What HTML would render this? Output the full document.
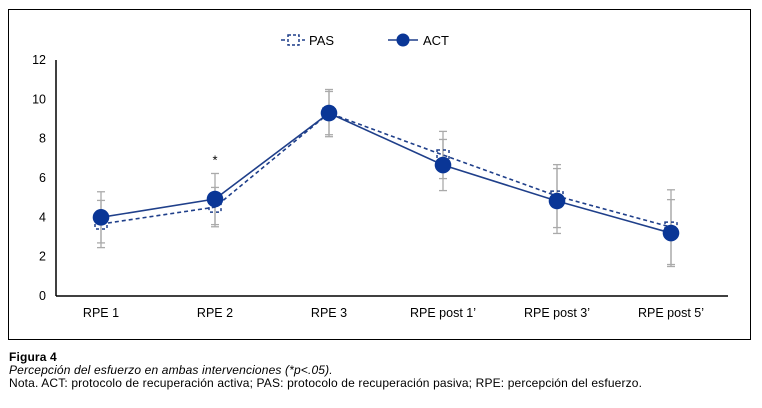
<!DOCTYPE html>
<html><head><meta charset="utf-8"><style>
body{margin:0;background:#fff;width:762px;height:408px;overflow:hidden;font-family:"Liberation Sans",Arial,sans-serif;}
svg{position:absolute;left:0;top:0}
.cap{position:absolute;left:9px;font-size:12px;color:#000;line-height:13px;letter-spacing:0.15px}
</style></head><body>
<svg width="762" height="408" id="chart">
<rect x="8.5" y="9.5" width="742" height="330" fill="none" stroke="#000" stroke-width="1"/>
</svg>
<div class="cap" style="top:351px;font-weight:bold">Figura 4</div>
<div class="cap" style="top:364px;font-style:italic">Percepción del esfuerzo en ambas intervenciones (*p&lt;.05).</div>
<div class="cap" style="top:377px">Nota. ACT: protocolo de recuperación activa; PAS: protocolo de recuperación pasiva; RPE: percepción del esfuerzo.</div>
<script>
const categories=["RPE 1","RPE 2","RPE 3","RPE post 1’","RPE post 3’","RPE post 5’"];
const actValues=[4.0,4.93,9.3,6.66,4.83,3.2];
const pasValues=[3.66,4.52,9.3,7.17,5.08,3.5];
const actSD=[1.3,1.3,1.2,1.3,1.65,1.7];
const pasSD=[1.2,1.0,1.1,1.2,1.6,1.9];
const yTicks=[0,2,4,6,8,10,12];
const NS="http://www.w3.org/2000/svg";
const svg=document.getElementById('chart');
const x0=56,x1=728,yBase=296,yTop=60;
function y(v){return yBase-(v/12)*(yBase-yTop);}
function x(i){return 101+114*i;}
function mk(t,a){const e=document.createElementNS(NS,t);for(const k in a)e.setAttribute(k,a[k]);svg.appendChild(e);return e;}
let e;
e=mk('line',{x1:x0,y1:yTop,x2:x0,y2:yBase,stroke:'#000','stroke-width':1.5});


e=mk('line',{x1:x0,y1:yBase,x2:x1,y2:yBase,stroke:'#000','stroke-width':1.5});


yTicks.forEach(t=>{e=mk('text',{x:46,y:y(t)+4,'text-anchor':'end','font-size':12.5,fill:'#000'});e.textContent=t;

});
categories.forEach((c,i)=>{e=mk('text',{x:x(i),y:317,'text-anchor':'middle','font-size':12.5,fill:'#000'});e.textContent=c;

});
function errs(vals,sd,name){vals.forEach((v,i)=>{const g=mk('g',{stroke:'#aaa','stroke-width':1.3});


const cx=x(i),a=y(v+sd[i]),b=y(v-sd[i]);
[[cx,a,cx,b],[cx-4,a,cx+4,a],[cx-4,b,cx+4,b]].forEach(l=>{const ln=document.createElementNS(NS,'line');ln.setAttribute('x1',l[0]);ln.setAttribute('y1',l[1]);ln.setAttribute('x2',l[2]);ln.setAttribute('y2',l[3]);g.appendChild(ln);});});}
errs(actValues,actSD,'act-error-bar');
errs(pasValues,pasSD,'pas-error-bar');
e=mk('polyline',{points:pasValues.map((v,i)=>x(i)+','+y(v)).join(' '),fill:'none',stroke:'#1f3f8a','stroke-width':1.6,'stroke-dasharray':'4,3'});


pasValues.forEach((v,i)=>{e=mk('rect',{x:x(i)-6,y:y(v)-5,width:12,height:10,fill:'none',stroke:'#1f3f8a','stroke-width':1.5,'stroke-dasharray':'3,3'});

});
e=mk('polyline',{points:actValues.map((v,i)=>x(i)+','+y(v)).join(' '),fill:'none',stroke:'#1f3f8a','stroke-width':1.6});


actValues.forEach((v,i)=>{e=mk('circle',{cx:x(i),cy:y(v),r:8.3,fill:'#0a3696'});

});
e=mk('text',{x:x(1),y:y(actValues[1]+actSD[1])-9,'text-anchor':'middle','font-size':13,fill:'#000'});e.textContent='*';


// legend
e=mk('line',{x1:281,y1:40,x2:305,y2:40,stroke:'#1f3f8a','stroke-width':1.6,'stroke-dasharray':'4,3'});


e=mk('rect',{x:288,y:35,width:11,height:10,fill:'#fff',stroke:'#1f3f8a','stroke-width':1.5,'stroke-dasharray':'3,2'});


e=mk('text',{x:309,y:45,'font-size':13,fill:'#000'});e.textContent='PAS';


e=mk('line',{x1:388,y1:40,x2:418,y2:40,stroke:'#1f3f8a','stroke-width':1.6});


e=mk('circle',{cx:403,cy:40,r:6.5,fill:'#0a3696'});


e=mk('text',{x:423,y:45,'font-size':13,fill:'#000'});e.textContent='ACT';


</script>
</body></html>
